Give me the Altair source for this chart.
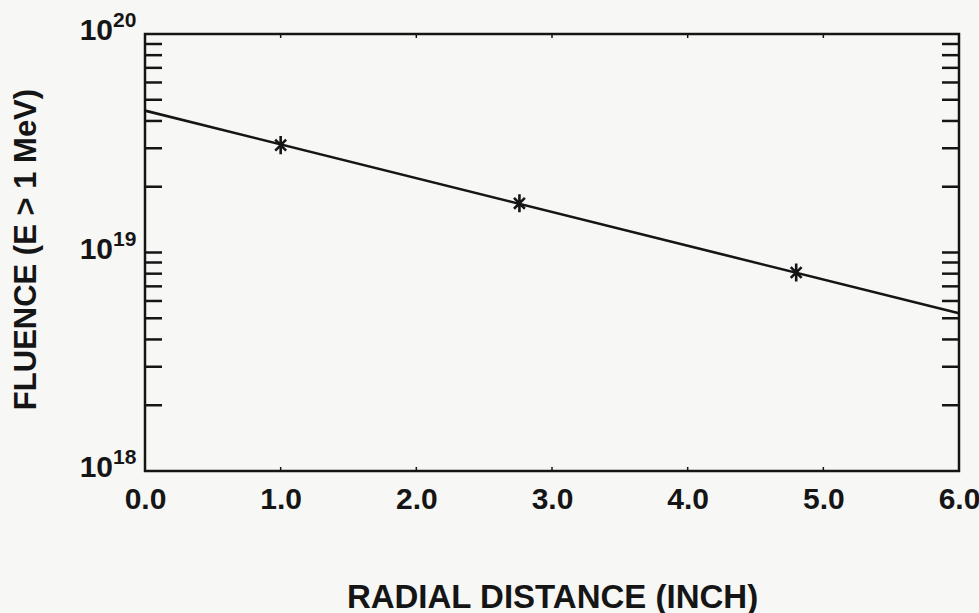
import altair as alt
import pandas as pd

# ---- data ----
line_x = [0.0, 6.0]
line_y = [4.46e19, 5.27e18]
pt_x = [1.0, 2.76, 4.80]
pt_y = [3.1e19, 1.68e19, 8.1e18]
ytick_vals = [2e18, 3e18, 4e18, 5e18, 6e18, 7e18, 8e18, 9e18,
              1e19, 2e19, 3e19, 4e19, 5e19, 6e19, 7e19, 8e19, 9e19]
xtick_vals = [1, 2, 3, 4, 5]
xlabel_vals = [0, 1, 2, 3, 4, 5, 6]
dec_vals = [1e18, 1e19, 1e20]
dec_mant = ["10", "10", "10"]
dec_exp = ["18", "19", "20"]

FONT = "Liberation Sans"
INK = "#151515"
W, H = 814, 437

line_df = pd.DataFrame({"x": line_x, "y": line_y})
pt_df = pd.DataFrame({"x": pt_x, "y": pt_y})
yt_df = pd.DataFrame({"y": ytick_vals})
xt_df = pd.DataFrame({"x": xtick_vals})
dec_df = pd.DataFrame({"y": dec_vals, "m": dec_mant, "e": dec_exp})

xs = alt.Scale(domain=[0, 6], nice=False, zero=False)
ys = alt.Scale(type="log", domain=[1e18, 1e20], nice=False)

x_axis = alt.Axis(
    values=xlabel_vals, format=".1f", labelFont=FONT, labelFontSize=30,
    labelFontWeight="bold", labelColor=INK, ticks=False, domain=False,
    grid=False, labelPadding=13, labelFlush=False, labelOverlap=False,
    title="RADIAL DISTANCE (INCH)", titleFont=FONT, titleFontSize=33,
    titleFontWeight="bold", titleColor=INK, titleY=126,
    titleBaseline="middle")
y_axis = alt.Axis(
    labels=False, ticks=False, domain=False, grid=False,
    title="FLUENCE (E > 1 MeV)", titleFont=FONT, titleFontSize=31,
    titleFontWeight="bold", titleColor=INK, titleAngle=270,
    titleX=-119, titleY=215, titleBaseline="middle", titleAlign="center")


def X():
    return alt.X("x:Q", scale=xs, axis=x_axis)


def Y():
    return alt.Y("y:Q", scale=ys, axis=y_axis)


line = alt.Chart(line_df).mark_line(color=INK, strokeWidth=2.6).encode(x=X(), y=Y())

star = "M0,-1L0,1M-0.6,-0.6L0.6,0.6M-0.6,0.6L0.6,-0.6"
points = alt.Chart(pt_df).mark_point(
    shape=star, size=330, filled=False, stroke=INK, strokeWidth=2.6,
    opacity=1
).encode(x=X(), y=Y())

yt_left = alt.Chart(yt_df).mark_rule(color=INK, strokeWidth=2.5).encode(
    y=Y(), x=alt.value(0), x2=alt.value(17))
yt_right = alt.Chart(yt_df).mark_rule(color=INK, strokeWidth=2.5).encode(
    y=Y(), x=alt.value(W - 17), x2=alt.value(W))

xt_top = alt.Chart(xt_df).mark_rule(color=INK, strokeWidth=1.5).encode(
    x=X(), y=alt.value(0), y2=alt.value(4))
xt_bot = alt.Chart(xt_df).mark_rule(color=INK, strokeWidth=1.5).encode(
    x=X(), y=alt.value(H - 4), y2=alt.value(H))

mant = alt.Chart(dec_df).mark_text(
    align="right", baseline="middle", font=FONT, fontSize=30,
    fontWeight="bold", color=INK, dy=-3
).encode(y=Y(), x=alt.value(-32), text="m:N")

expo = alt.Chart(dec_df).mark_text(
    align="left", baseline="middle", font=FONT, fontSize=21,
    fontWeight="bold", color=INK, dy=-13
).encode(y=Y(), x=alt.value(-32), text="e:N")

chart = alt.layer(line, points, yt_left, yt_right, xt_top, xt_bot, mant, expo).properties(
    width=W, height=H,
    autosize=alt.AutoSizeParams(type="none"),
    padding={"left": 145, "top": 34, "right": 20, "bottom": 142},
    background="#f7f7f5",
).configure_view(stroke=INK, strokeWidth=2.5)

chart.save("out.html", embed_options={"renderer": "svg", "actions": False})
